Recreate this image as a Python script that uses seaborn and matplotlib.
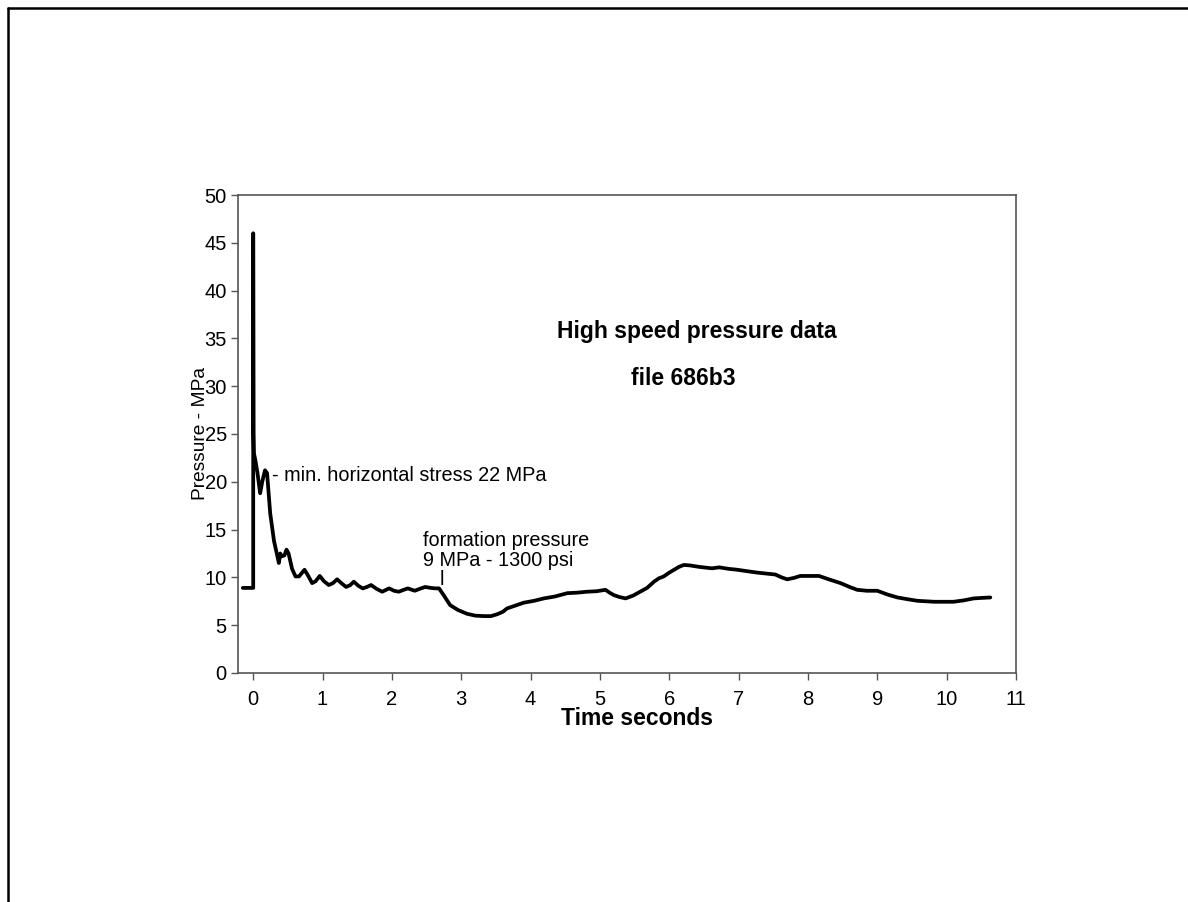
import numpy as np
import pandas as pd
import matplotlib
matplotlib.use("Agg")
import matplotlib.pyplot as plt
from matplotlib.lines import Line2D
import seaborn as sns

# values
time_s = [-0.15, 0.0, 0.0, 0.005, 0.01, 0.03, 0.06, 0.10, 0.13, 0.17, 0.20, 0.245,
          0.30, 0.34, 0.37, 0.39, 0.41, 0.45, 0.48, 0.51, 0.56, 0.61, 0.66, 0.74,
          0.79, 0.85, 0.90, 0.96, 1.02, 1.09, 1.15, 1.21, 1.27, 1.34, 1.40, 1.45,
          1.52, 1.58, 1.64, 1.70, 1.78, 1.86, 1.96, 2.03, 2.10, 2.17, 2.23, 2.33,
          2.40, 2.48, 2.56, 2.63, 2.68, 2.75, 2.84, 2.95, 3.08, 3.20, 3.32, 3.43,
          3.52, 3.60, 3.66, 3.78, 3.90, 4.05, 4.19, 4.35, 4.53, 4.67, 4.81, 4.95,
          5.08, 5.14, 5.20, 5.28, 5.37, 5.48, 5.58, 5.68, 5.78, 5.85, 5.92, 6.00,
          6.07, 6.14, 6.21, 6.30, 6.43, 6.55, 6.62, 6.72, 6.85, 6.98, 7.12, 7.27,
          7.40, 7.53, 7.62, 7.70, 7.80, 7.89, 8.02, 8.16, 8.30, 8.47, 8.60, 8.71,
          8.85, 9.00, 9.15, 9.29, 9.45, 9.58, 9.70, 9.82, 9.95, 10.10, 10.25, 10.39,
          10.50, 10.63]
pressure_mpa = [8.9, 8.9, 46.0, 25.1, 23.0, 22.3, 21.0, 18.8, 20.0, 21.2, 20.9, 16.7,
                13.8, 12.5, 11.5, 12.5, 12.2, 12.3, 12.9, 12.5, 10.9, 10.1, 10.1, 10.8,
                10.2, 9.4, 9.6, 10.15, 9.6, 9.2, 9.4, 9.8, 9.4, 9.0, 9.2, 9.55,
                9.1, 8.85, 9.0, 9.2, 8.8, 8.5, 8.85, 8.6, 8.5, 8.7, 8.85, 8.6,
                8.8, 9.0, 8.9, 8.85, 8.85, 8.1, 7.1, 6.6, 6.2, 6.0, 5.95, 5.95,
                6.15, 6.4, 6.75, 7.05, 7.35, 7.55, 7.8, 8.0, 8.35, 8.4, 8.5, 8.55,
                8.7, 8.4, 8.15, 7.95, 7.8, 8.1, 8.5, 8.9, 9.55, 9.9, 10.1, 10.5,
                10.8, 11.1, 11.3, 11.25, 11.1, 11.0, 10.95, 11.05, 10.9, 10.8, 10.65, 10.5,
                10.4, 10.3, 10.0, 9.8, 9.95, 10.15, 10.15, 10.15, 9.8, 9.4, 9.0, 8.7,
                8.6, 8.6, 8.2, 7.9, 7.7, 7.55, 7.5, 7.45, 7.45, 7.45, 7.6, 7.8,
                7.85, 7.9]

x_ticks = list(range(0, 12))
y_ticks = list(range(0, 51, 5))

df = pd.DataFrame({"time": time_s, "pressure": pressure_mpa})

sns.set_style("ticks")
plt.rcParams["font.family"] = ["Liberation Sans", "DejaVu Sans"]
plt.rcParams["text.color"] = "black"
plt.rcParams["axes.labelcolor"] = "black"
plt.rcParams["xtick.color"] = "black"
plt.rcParams["ytick.color"] = "black"

fig = plt.figure(figsize=(11.88, 9.02), dpi=100)
ax = fig.add_axes([0.2003, 0.2539, 0.6549, 0.5299])

sns.lineplot(data=df, x="time", y="pressure", sort=False, estimator=None,
             color="black", linewidth=2.7, ax=ax)

ax.set_xlim(-0.22, 11)
ax.set_ylim(0, 50)
ax.set_xticks(x_ticks)
ax.set_yticks(y_ticks)
ax.tick_params(labelsize=14.5, length=5, width=1, color="#555555", direction="out")
for side in ["left", "right", "top", "bottom"]:
    ax.spines[side].set_visible(True)
    ax.spines[side].set_color("#555555")
    ax.spines[side].set_linewidth(1.2)
ax.tick_params(axis="x", pad=7)
ax.tick_params(axis="y", pad=3)

ax.set_xlabel("Time seconds", fontsize=16.5, fontweight="bold", labelpad=0)
ax.xaxis.set_label_coords(0.513, -0.072)
# the reference has the y label sitting right over the tick numbers
ax.set_ylabel("Pressure - MPa", fontsize=13.8, labelpad=-3)

ax.text(0.27, 20.7, "- min. horizontal stress 22 MPa", fontsize=14.3, va="center", ha="left")
ax.text(2.45, 13.9, "formation pressure", fontsize=14.3, va="center", ha="left")
ax.text(2.45, 11.8, "9 MPa - 1300 psi", fontsize=14.3, va="center", ha="left")
ax.text(2.72, 9.8, "l", fontsize=14.3, va="center", ha="center")

ax.text(6.4, 35.7, "High speed pressure data", fontsize=16.5, fontweight="bold",
        va="center", ha="center")
ax.text(6.2, 30.8, "file 686b3", fontsize=16.5, fontweight="bold",
        va="center", ha="center")

# outer frame (left and top edges only)
fig.add_artist(Line2D([8 / 1188, 8 / 1188], [0, 1 - 8 / 902], transform=fig.transFigure,
                      color="black", linewidth=1.8))
fig.add_artist(Line2D([8 / 1188, 1], [1 - 8 / 902, 1 - 8 / 902], transform=fig.transFigure,
                      color="black", linewidth=1.8))

fig.savefig("out.png", dpi=100, facecolor="white")
